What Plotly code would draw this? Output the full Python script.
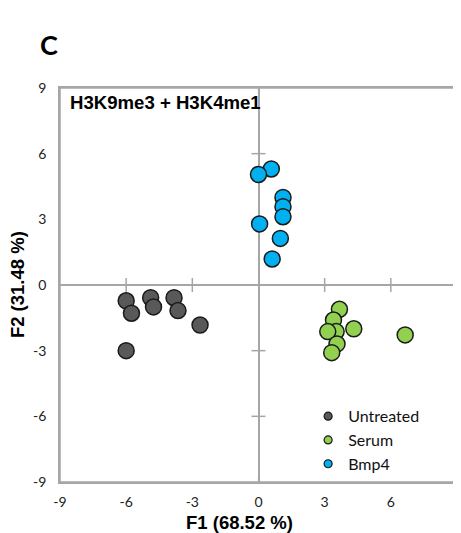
import plotly.graph_objects as go

# Data
untreated_x = [-6.0, -5.76, -4.89, -4.76, -3.83, -3.65, -2.65, -6.0]
untreated_y = [-0.72, -1.29, -0.58, -1.0, -0.58, -1.17, -1.83, -3.0]
serum_x = [3.67, 3.40, 3.52, 3.14, 4.32, 3.56, 3.32, 6.65]
serum_y = [-1.11, -1.60, -2.13, -2.13, -2.0, -2.69, -3.09, -2.28]
bmp4_x = [0.58, 0.0, 1.11, 1.11, 1.11, 0.05, 0.99, 0.62]
bmp4_y = [5.30, 5.05, 4.0, 3.58, 3.12, 2.79, 2.13, 1.19]
tick_vals = [-9, -6, -3, 0, 3, 6, 9]
tick_text = ["-9", "-6", "-3", "0", "3", "6", "9"]

GRAY = "#a6a6a6"
fig = go.Figure()

# cross ticks along zero lines
inner_ticks = [-6, -3, 3, 6]
fig.add_trace(go.Scatter(x=inner_ticks, y=[0] * len(inner_ticks), mode="markers",
                         marker=dict(symbol="line-ns-open", size=10, color=GRAY,
                                     line=dict(color=GRAY, width=1.5)),
                         showlegend=False, hoverinfo="skip"))
fig.add_trace(go.Scatter(x=[0] * len(inner_ticks), y=inner_ticks, mode="markers",
                         marker=dict(symbol="line-ew-open", size=10, color=GRAY,
                                     line=dict(color=GRAY, width=1.5)),
                         showlegend=False, hoverinfo="skip"))
fig.add_trace(go.Scatter(x=[0, 0], y=[9, -9], mode="markers",
                         marker=dict(symbol="line-ns-open", size=8, color=GRAY,
                                     line=dict(color=GRAY, width=1.2)),
                         showlegend=False, hoverinfo="skip"))

series = [
    ("Untreated", untreated_x, untreated_y, "#595959"),
    ("Serum", serum_x, serum_y, "#92d050"),
    ("Bmp4", bmp4_x, bmp4_y, "#00b0f0"),
]
for name, xs, ys, col in series:
    fig.add_trace(go.Scatter(x=xs, y=ys, mode="markers", name=name,
                             showlegend=False,
                             marker=dict(size=16, color=col,
                                         line=dict(color="#1a1a1a", width=1.5))))
# legend entries (small symbols as in the reference)
for name, xs, ys, col in series:
    fig.add_trace(go.Scatter(x=[None], y=[None], mode="markers", name=name,
                             marker=dict(size=8, color=col,
                                         line=dict(color="#1a1a1a", width=1.2))))

axis_common = dict(range=[-9, 9], tickvals=tick_vals, ticktext=tick_text,
                   showgrid=False, zeroline=True, zerolinecolor=GRAY,
                   zerolinewidth=1.5, showline=True, linecolor=GRAY,
                   linewidth=1.5, mirror=True, ticks="outside",
                   tickcolor="rgba(0,0,0,0)", automargin=False,
                   tickfont=dict(family="Lato", size=14, color="#222222"),
                   fixedrange=True)

fig.update_layout(
    width=453, height=525,
    margin=dict(l=52, r=4, t=80, b=51),
    plot_bgcolor="white", paper_bgcolor="white",
    xaxis=dict(**axis_common, ticklen=6),
    yaxis=dict(**axis_common, ticklen=9),
    legend=dict(x=0.625, y=0.21, xanchor="left", yanchor="top",
                font=dict(family="Lato", size=16, color="#111111"),
                itemsizing="trace", bgcolor="rgba(0,0,0,0)",
                tracegroupgap=0),
    shapes=[dict(type="rect", xref="paper", yref="paper", x0=0, y0=0, x1=1, y1=1,
                 line=dict(color=GRAY, width=1.5), layer="below")],
    annotations=[
        dict(text="<b>C</b>", xref="paper", yref="paper", x=-0.055, y=1.11,
             xanchor="left", yanchor="middle", showarrow=False,
             font=dict(family="Lato", size=27, color="black")),
        dict(text="<b>H3K9me3 + H3K4me1</b>", xref="paper", yref="paper",
             x=0.02, y=0.962, xanchor="left", yanchor="middle", showarrow=False,
             font=dict(family="Liberation Sans", size=18.6, color="black")),
        dict(text="<b>F1 (68.52 %)</b>", xref="paper", yref="paper",
             x=0.453, y=-0.102, xanchor="center", yanchor="middle", showarrow=False,
             font=dict(family="Liberation Sans", size=18.5, color="black")),
        dict(text="<b>F2 (31.48 %)</b>", xref="paper", yref="paper",
             x=-0.108, y=0.5, xanchor="center", yanchor="middle", showarrow=False,
             textangle=-90,
             font=dict(family="Liberation Sans", size=18.5, color="black")),
    ],
)

fig.write_html("out.html")
